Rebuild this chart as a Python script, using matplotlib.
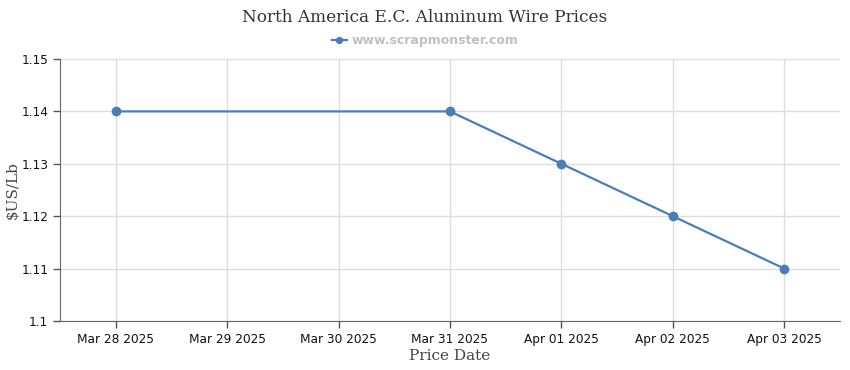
import matplotlib.pyplot as plt

# Datos
fechas = ["Mar 28 2025", "Mar 29 2025", "Mar 30 2025", "Mar 31 2025",
          "Apr 01 2025", "Apr 02 2025", "Apr 03 2025"]
idx_precios = [0, 3, 4, 5, 6]
precios = [1.14, 1.14, 1.13, 1.12, 1.11]
ticks_y = [1.1, 1.11, 1.12, 1.13, 1.14, 1.15]
etiquetas_y = ["1.1", "1.11", "1.12", "1.13", "1.14", "1.15"]

azul = "#4a7ebb"

fig = plt.figure(figsize=(8.5, 3.7), dpi=100)
ax = fig.add_axes([60 / 850, 1 - 321 / 370, 780 / 850, 262 / 370])

ax.plot(idx_precios, precios, color=azul, linewidth=1.6, marker="o",
        markersize=6, label="www.scrapmonster.com", zorder=3)

ax.set_xlim(-0.5, 6.5)
ax.set_ylim(1.1, 1.15)
ax.set_xticks(range(len(fechas)))
ax.set_xticklabels(fechas)
ax.set_yticks(ticks_y)
ax.set_yticklabels(etiquetas_y)
ax.tick_params(labelsize=8.7, colors="#555555", labelcolor="#111111", length=5, width=1)

ax.grid(True, color="#dddddd", linewidth=1)
ax.set_axisbelow(True)
for lado in ["top", "right"]:
    ax.spines[lado].set_visible(False)
ax.spines["left"].set_color("#666666")
ax.spines["bottom"].set_color("#666666")

ax.set_xlabel("Price Date", fontsize=11, family="DejaVu Serif", color="#444444", labelpad=2)
ax.set_ylabel("\\$US/Lb", fontsize=11, family="DejaVu Serif", color="#444444", labelpad=1)

fig.text(0.5, 0.953, "North America E.C. Aluminum Wire Prices", ha="center", va="center",
         fontsize=12.2, family="DejaVu Serif", color="#333333")

leg = fig.legend(loc="center", bbox_to_anchor=(0.5, 0.89), frameon=False,
                 handlelength=1.2, handletextpad=0.4, markerscale=0.7,
                 prop={"size": 9, "weight": "bold"})
for t in leg.get_texts():
    t.set_color("#c0c0c0")

plt.savefig("out.png", dpi=100)
